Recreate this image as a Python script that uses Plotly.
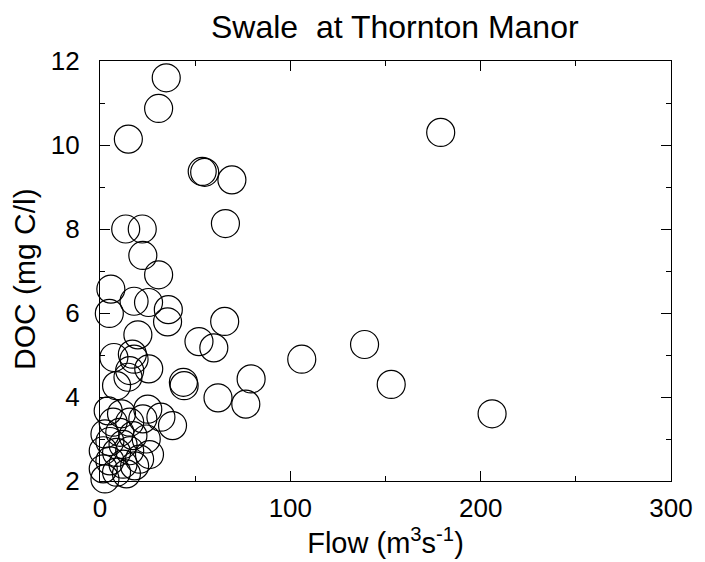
import plotly.graph_objects as go

flow = [34.8, 30.8, 14.9, 53.7, 55.0, 69.3, 65.9, 13.5, 22.2, 22.5,
        30.8, 5.7, 17.9, 25.5, 35.9, 4.9, 35.5, 65.5, 19.9, 52.0,
        59.8, 7.3, 17.0, 25.6, 17.9, 15.6, 14.7, 8.7, 43.8, 44.2,
        79.4, 62.0, 76.6,
        106, 139, 153, 179, 206,
        25.1, 32.0, 38.1, 22.5, 4.3, 11.3, 6.9, 15.6, 2.6, 10.4,
        17.3, 24.3, 5.2, 12.1, 1.7, 8.7, 15.6, 26.0, 20.8, 5.2,
        12.1, 18.2, 1.7, 8.7, 2.6, 13.9]
doc = [11.60, 10.87, 10.14, 9.37, 9.35, 9.17, 8.13, 8.00, 8.00, 7.37,
       6.91, 6.57, 6.28, 6.25, 6.08, 5.99, 5.79, 5.80, 5.48, 5.32,
       5.17, 4.94, 5.02, 4.67, 4.90, 4.63, 4.47, 4.27, 4.35, 4.27,
       4.43, 3.98, 3.83,
       4.9, 5.25, 4.3, 10.3, 3.6,
       3.71, 3.52, 3.32, 3.48, 3.67, 3.60, 3.40, 3.40, 3.12, 3.16,
       3.08, 3.00, 2.94, 2.87, 2.72, 2.68, 2.72, 2.63, 2.52, 2.48,
       2.40, 2.36, 2.29, 2.21, 2.05, 2.17]

x_ticks = [0, 100, 200, 300]
y_ticks = [2, 4, 6, 8, 10, 12]

FONT = "Liberation Sans, Arial, Helvetica, sans-serif"

fig = go.Figure(go.Scatter(
    x=flow, y=doc, mode="markers",
    marker=dict(symbol="circle-open", size=28, color="black",
                line=dict(width=1.2, color="black")),
    cliponaxis=False, showlegend=False,
))

axis_common = dict(
    showgrid=False, zeroline=False, showline=True, linecolor="black",
    linewidth=1.2, mirror="ticks", ticks="inside", ticklen=10,
    tickwidth=1.2, tickcolor="black",
    tickfont=dict(family=FONT, size=26, color="black"),
)

fig.update_layout(
    width=705, height=562,
    margin=dict(l=100, r=28, t=61, b=80),
    paper_bgcolor="white", plot_bgcolor="white",
    title=dict(text="Swale  at Thornton Manor", x=0.56, xanchor="center",
               y=0.953, yanchor="middle",
               font=dict(family=FONT, size=32, color="black")),
    xaxis=dict(range=[0, 300], tickvals=x_ticks,
               minor=dict(tickvals=[50, 150, 250], ticks="inside", ticklen=5,
                          tickcolor="black", tickwidth=1.2),
               title=dict(text="Flow (m<sup>3</sup>s<sup>-1</sup>)",
                          font=dict(family=FONT, size=29, color="black"),
                          standoff=6),
               ticklabelstandoff=4,
               **axis_common),
    yaxis=dict(range=[2, 12], tickvals=y_ticks,
               minor=dict(tickvals=[3, 5, 7, 9, 11], ticks="inside", ticklen=5,
                          tickcolor="black", tickwidth=1.2),
               ticklabelstandoff=14,
               **axis_common),
    annotations=[dict(text="DOC (mg C/l)", textangle=-90,
                      xref="paper", yref="paper", x=-0.132, y=0.48,
                      xanchor="center", yanchor="middle", showarrow=False,
                      font=dict(family=FONT, size=30, color="black"))],
)

fig.write_html("out.html")
